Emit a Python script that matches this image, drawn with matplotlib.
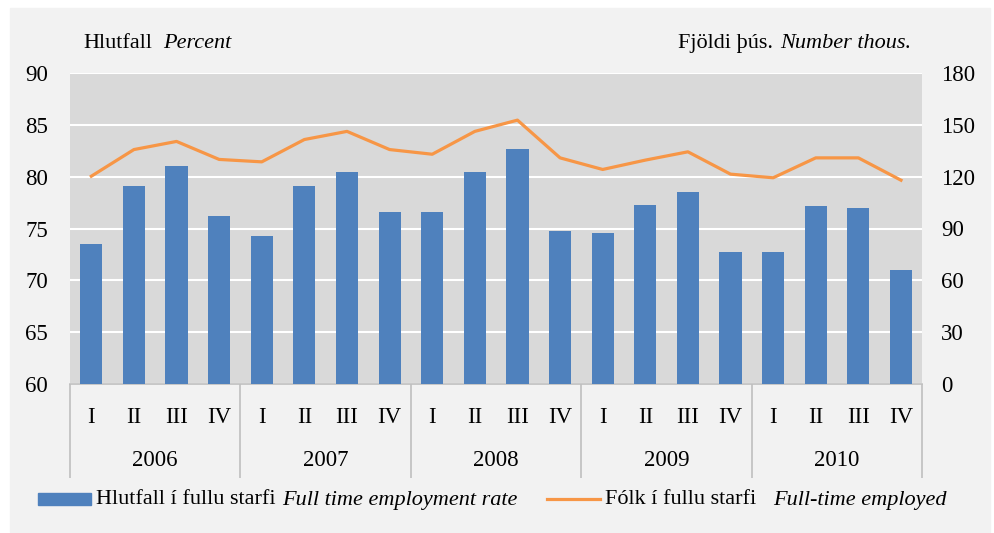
import numpy as np
import matplotlib.pyplot as plt
from matplotlib.patches import Rectangle
from matplotlib.lines import Line2D
from matplotlib.transforms import blended_transform_factory

plt.rcParams['font.family'] = ['Liberation Serif', 'DejaVu Serif']

years = ['2006', '2007', '2008', '2009', '2010']
quarters = ['I', 'II', 'III', 'IV'] * 5
rate = [73.5, 79.1, 81.0, 76.2,
        74.3, 79.1, 80.4, 76.6,
        76.6, 80.4, 82.7, 74.8,
        74.6, 77.3, 78.5, 72.7,
        72.7, 77.2, 77.0, 71.0]
employed = [120.2, 135.6, 140.3, 129.9,
            128.5, 141.4, 146.1, 135.6,
            132.9, 146.1, 152.6, 130.8,
            124.1, 129.5, 134.3, 121.4,
            119.3, 130.8, 130.8, 117.9]

W, H = 994, 533
fig = plt.figure(figsize=(W / 100, H / 100), dpi=100, facecolor='white')
fig.patches.append(Rectangle((10 / W, 1 - 532 / H), 980 / W, 524 / H,
                             transform=fig.transFigure, color='#f2f2f2', zorder=-5))

ax = fig.add_axes([70 / W, 1 - 384.3 / H, 852.3 / W, 311.6 / H])
ax.set_facecolor('#d9d9d9')
x = np.arange(len(rate))
ax.bar(x, np.array(rate) - 60, bottom=60, width=0.52, color='#4f81bd', zorder=3)
ax.set_ylim(60, 90)
ax.set_xlim(-0.5, len(rate) - 0.5)
ax.set_yticks(range(60, 91, 5))
ax.grid(axis='y', color='white', linewidth=1.5, zorder=1)
ax.set_axisbelow(True)
for s in ['left', 'right', 'top']:
    ax.spines[s].set_visible(False)
ax.spines['bottom'].set_color('#bfbfbf')
ax.spines['bottom'].set_linewidth(1.2)
ax.tick_params(axis='y', length=0, pad=16, labelsize=16.5)
ax.set_xticks(x, quarters)
ax.tick_params(axis='x', length=0, pad=16, labelsize=16.5)

ax2 = ax.twinx()
ax2.plot(x, employed, color='#f79646', linewidth=2.3, solid_joinstyle='round')
ax2.set_ylim(0, 180)
ax2.set_yticks(range(0, 181, 30))
for s in ax2.spines.values():
    s.set_visible(False)
ax2.tick_params(axis='y', length=0, pad=13.5, labelsize=16.5)

# year grouping
sec = ax.secondary_xaxis('bottom')
sec.set_xticks(np.arange(-0.5, len(rate), 4), [''] * 6)
sec.tick_params(length=67.7, width=1.2, color='#bfbfbf')
sec.spines['bottom'].set_visible(False)
tr = blended_transform_factory(ax.transData, ax.transAxes)
for i, yr in enumerate(years):
    ax.text(i * 4 + 1.5, -(460 - 384.3) / 311.6, yr, transform=tr,
            ha='center', va='center', fontsize=16.5)

# axis titles
fs = 16
fig.text(83 / W, 1 - 43 / H, 'Hlutfall', fontsize=fs, va='center')
fig.text(163 / W, 1 - 43 / H, 'Percent', fontsize=fs, va='center', style='italic')
fig.text(678 / W, 1 - 43 / H, 'Fjöldi þús.', fontsize=fs, va='center')
fig.text(911 / W, 1 - 43 / H, 'Number thous.', fontsize=fs, va='center',
         style='italic', ha='right')

# legend
fig.patches.append(Rectangle((38 / W, 1 - 505 / H), 53 / W, 12 / H,
                             transform=fig.transFigure, color='#4f81bd'))
fig.text(96 / W, 1 - 500 / H, 'Hlutfall í fullu starfi', fontsize=fs, va='center')
fig.text(282 / W, 1 - 500 / H, 'Full time employment rate', fontsize=fs,
         va='center', style='italic')
fig.lines.append(Line2D([547 / W, 600 / W], [1 - 499 / H, 1 - 499 / H],
                        transform=fig.transFigure, color='#f79646', linewidth=2.3))
fig.text(605 / W, 1 - 500 / H, 'Fólk í fullu starfi', fontsize=fs, va='center')
fig.text(773 / W, 1 - 500 / H, 'Full-time employed', fontsize=fs,
         va='center', style='italic')

fig.savefig('out.png', dpi=100, facecolor='white')
